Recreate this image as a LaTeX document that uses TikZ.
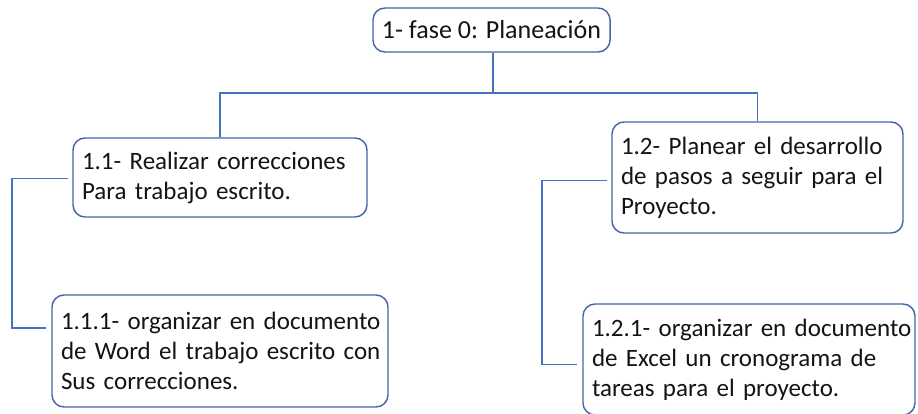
\documentclass[tikz,border=0pt]{standalone}
\usepackage{fontspec}
\setmainfont{Carlito}
\definecolor{boxline}{RGB}{68,100,165}
\definecolor{connline}{RGB}{68,114,196}
\definecolor{txt}{RGB}{20,20,20}
\newcommand{\oneline}[1]{\mbox{#1}}
\begin{document}
\begin{tikzpicture}[x=1pt,y=-1pt,
  box/.style={draw=boxline, line width=1.4pt, rounded corners=12pt, fill=white,
    text=txt, font=\fontsize{25}{30}\selectfont, inner xsep=9pt, inner ysep=0pt,
    align=left},
  conn/.style={draw=connline, line width=1.8pt}]
\useasboundingbox (0,0) rectangle (918,413);
\fill[white] (0,0) rectangle (918,413);
\node[box, align=center, font=\fontsize{26}{30}\selectfont, minimum width=233pt, minimum height=44pt] (root) at (491.5,30) {1- fase 0: Planeación};
\node[box, text width=276pt, minimum height=79pt] (n11) at (220,177.5) {\oneline{1.1- Realizar correcciones}\\\oneline{Para trabajo escrito.}};
\node[box, text width=273pt, minimum height=111pt] (n12) at (757.5,177.5) {\oneline{1.2- Planear el desarrollo}\\\oneline{de pasos a seguir para el}\\\oneline{Proyecto.}};
\node[box, text width=318pt, minimum height=112pt] (n111) at (220,351) {\oneline{1.1.1- organizar en documento}\\\oneline{de Word el trabajo escrito con}\\\oneline{Sus correcciones.}};
\node[box, text width=314pt, minimum height=111pt] (n121) at (749,359.5) {\oneline{1.2.1- organizar en documento}\\\oneline{de Excel un cronograma de}\\\oneline{tareas para el proyecto.}};
\coordinate (bus) at (493,93);
\draw[conn] (root.south -| bus) -- (bus);
\draw[conn] (n11.north) -- (n11.north |- bus) -- (n12.north |- bus) -- (n12.north);
\draw[conn, shorten <=4pt, shorten >=5pt] ([yshift=-1pt]n11.west) -- ++(-60,0) |- ([yshift=23pt]n111.west);
\draw[conn, shorten <=4pt, shorten >=5pt] ([yshift=-3pt]n12.west) -- ++(-69,0) |- ([yshift=-5pt]n121.west);
\end{tikzpicture}
\end{document}
